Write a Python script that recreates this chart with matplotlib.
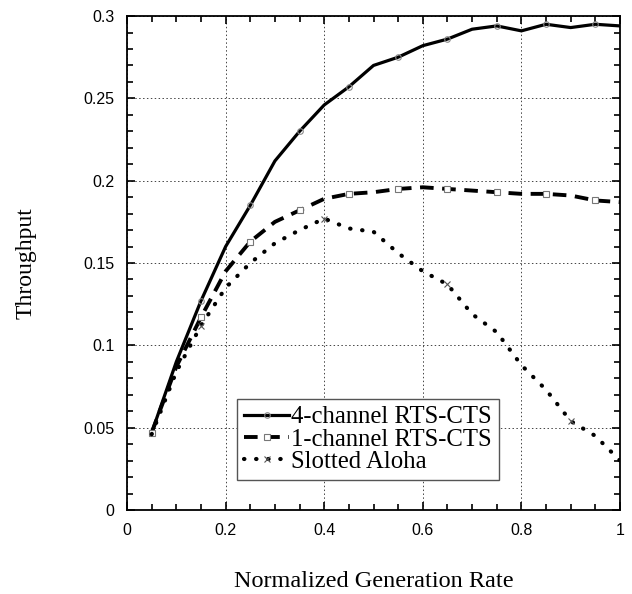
import matplotlib
matplotlib.use("Agg")
import matplotlib.pyplot as plt
from matplotlib.ticker import MultipleLocator
from matplotlib.lines import Line2D
import numpy as np

# generation rate (x) and throughput for each scheme
rate = [0.05, 0.10, 0.15, 0.20, 0.25, 0.30, 0.35, 0.40, 0.45, 0.50,
        0.55, 0.60, 0.65, 0.70, 0.75, 0.80, 0.85, 0.90, 0.95, 1.00]
four_ch = [0.047, 0.090, 0.127, 0.160, 0.185, 0.212, 0.230, 0.246, 0.257, 0.270,
           0.275, 0.282, 0.286, 0.292, 0.294, 0.291, 0.295, 0.293, 0.295, 0.294]
one_ch = [0.047, 0.087, 0.117, 0.145, 0.163, 0.175, 0.182, 0.189, 0.192, 0.193,
          0.195, 0.196, 0.195, 0.194, 0.193, 0.192, 0.192, 0.191, 0.188, 0.187]
aloha = [0.046, 0.084, 0.112, 0.135, 0.150, 0.162, 0.170, 0.177, 0.171, 0.169,
         0.156, 0.145, 0.137, 0.119, 0.108, 0.088, 0.073, 0.054, 0.045, 0.030]

labels = ["4-channel RTS-CTS", "1-channel RTS-CTS", "Slotted Aloha"]
xticks = [0, 0.2, 0.4, 0.6, 0.8, 1.0]
xtick_labels = ["0", "0.2", "0.4", "0.6", "0.8", "1"]
yticks = [0, 0.05, 0.1, 0.15, 0.2, 0.25, 0.3]
ytick_labels = ["0", "0.05", "0.1", "0.15", "0.2", "0.25", "0.3"]

# line styles: (linewidth, linestyle, marker, marker edge colour, markevery)
styles = [
    dict(lw=2.3, ls="-", marker="o", mfc="none", mec="#888888"),
    dict(lw=2.8, ls=(0, (3.5, 2.2)), marker="s", mfc="white", mec="#777777"),
    dict(lw=3.0, ls=(0, (0.1, 2.8)), marker="x", mfc="none", mec="#555555", dash_capstyle="round"),
]
every = [(0, 2), (0, 2), (2, 5)]

fig = plt.figure(figsize=(6.32, 5.94), dpi=100)
ax = fig.add_axes([0.201, 0.1414, 0.780, 0.8316])

handles = []
for ys, st, ev, lab in zip([four_ch, one_ch, aloha], styles, every, labels):
    ax.plot(rate, ys, color="black", ms=4, mew=0.8, markevery=ev, **st)
    handles.append(Line2D([], [], color="black", ms=4, mew=0.8, label=lab, **st))

ax.set_xlim(0, 1)
ax.set_ylim(0, 0.3)
ax.set_xticks(xticks)
ax.set_xticklabels(xtick_labels, family="Liberation Sans", fontsize=11.5)
ax.set_yticks(yticks)
ax.set_yticklabels(ytick_labels, family="Liberation Sans", fontsize=11.5)
ax.xaxis.set_minor_locator(MultipleLocator(0.05))
ax.yaxis.set_minor_locator(MultipleLocator(0.01))
ax.tick_params(which="both", direction="in", top=True, right=True, width=1.2)
ax.tick_params(which="major", length=6, pad=9)
ax.tick_params(which="minor", length=4)
ax.grid(True, which="major", ls=(0, (1.5, 2.5)), color="#444444", lw=0.7)
for sp in ax.spines.values():
    sp.set_linewidth(1.3)

ax.set_xlabel("Normalized Generation Rate", family="Liberation Serif", fontsize=17.5, labelpad=24)
ax.set_ylabel("Throughput", family="Liberation Serif", fontsize=17, labelpad=34)

leg = ax.legend(handles=handles, loc="lower left", bbox_to_anchor=(0.223, 0.06),
                prop={"family": "Liberation Serif", "size": 17.8}, numpoints=1,
                handlelength=1.8, handletextpad=0.1, labelspacing=0.0, borderpad=0.3,
                fancybox=False, framealpha=1, edgecolor="#555555", borderaxespad=0)
leg.get_frame().set_linewidth(1.0)

fig.savefig("out.png", dpi=100)
